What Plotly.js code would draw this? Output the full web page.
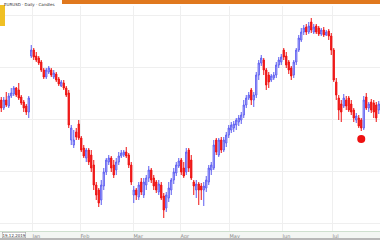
<!DOCTYPE html>
<html>
<head>
<meta charset="utf-8">
<script src="https://cdn.plot.ly/plotly-3.0.1.min.js"></script>
<style>html,body{margin:0;padding:0;background:#fff;}#chart{width:380px;height:240px;}</style>
</head>
<body>
<div id="chart"></div>
<script>
// OHLC values (arbitrary price units)
const openVals = [140,132,140,134,144,146,152,150,143,138,134,128,
184,190,184,182,178,170,163,168,170,163,166,161,154,157,152,147,
100,95,108,116,102,92,82,90,85,75,55,50,40,54,68,78,82,75,70,78,84,85,88,85,75,
45,50,43,58,45,55,62,70,62,58,48,55,44,32,42,50,60,67,74,80,72,
68,90,80,58,50,56,54,50,52,58,70,72,100,85,100,90,97,105,110,112,115,118,120,125,135,142,150,140,145,165,177,180,170,165,160,162,165,175,
178,190,184,178,172,165,178,190,200,208,213,208,218,208,214,212,206,210,205,209,204,190,
158,142,136,134,140,142,136,130,120,122,120,112,143,132,138,137,135,130];
const closeVals = [132,140,135,144,147,152,145,142,137,132,128,142,
190,183,180,177,170,163,170,172,165,167,160,156,158,152,145,115,
112,100,103,102,90,84,90,78,72,55,45,37,55,68,80,82,72,65,78,84,87,88,84,75,58,
50,45,55,48,58,62,70,60,54,50,56,42,30,45,52,60,68,75,79,68,64,
88,72,62,54,56,50,50,54,60,72,75,95,88,100,90,100,105,112,115,116,120,122,125,135,142,145,140,145,165,177,182,170,155,158,164,165,175,180,
183,183,175,170,164,178,190,202,208,212,208,214,210,213,208,206,210,205,208,204,190,160,
145,130,128,142,134,130,128,122,124,114,112,140,132,136,130,128,122,136];
const highVals = [143,143,148,147,152,154,153,157,145,140,136,144,
195,192,188,184,180,172,172,174,172,170,168,163,160,160,154,150,
115,110,112,120,104,95,92,92,90,80,58,52,60,72,82,85,84,80,82,88,90,90,93,87,78,
54,52,58,62,62,65,74,72,65,60,60,58,47,48,58,62,72,78,82,82,78,
92,92,85,60,60,58,57,58,64,75,78,100,102,102,103,103,108,115,118,119,122,125,128,140,145,148,152,148,168,180,185,182,172,168,166,168,178,183,
186,192,188,180,174,180,192,205,212,215,216,218,222,216,216,214,212,213,210,211,207,192,
162,145,140,146,144,144,140,132,127,125,122,144,147,138,141,140,138,139];
const lowVals = [128,130,133,132,142,144,143,140,135,128,125,122,
182,180,178,175,168,161,161,166,163,161,158,154,153,150,143,112,
95,92,100,100,88,82,78,75,68,50,40,33,35,50,65,75,68,62,65,75,82,83,82,72,55,
37,40,40,45,42,50,58,57,50,47,45,40,22,28,38,45,56,64,72,65,62,
65,68,60,45,42,35,40,34,48,55,65,70,85,83,87,88,93,102,107,108,110,114,116,122,132,140,135,133,142,160,174,165,150,152,158,160,162,172,
175,180,172,166,160,162,175,188,198,205,205,206,207,206,206,204,204,203,204,200,185,158,
140,120,118,132,130,128,125,118,117,112,109,110,130,128,127,122,118,126];

// marker (red dot) below the last swing low
const dotIndex = [144];
const dotValue = [101];

// month tick labels
const tickLabels = ['Jan', 'Feb', 'Mar', 'Apr', 'May', 'Jun', 'Jul'];
const tickIndex = [12.3, 31.5, 52.7, 71.5, 91.1, 112.3, 132.3];

const traces = [
  {
    type: 'candlestick',
    open: openVals, high: highVals, low: lowVals, close: closeVals,
    increasing: {line: {color: '#5c5cf0', width: 1}, fillcolor: '#e2e2ff'},
    decreasing: {line: {color: '#ee1111', width: 1}, fillcolor: '#ee1111'},
    whiskerwidth: 0,
    hoverinfo: 'skip'
  },
  {
    type: 'scatter', mode: 'markers',
    x: dotIndex, y: dotValue,
    marker: {color: '#ee1111', size: 8},
    hoverinfo: 'skip'
  }
];

const layout = {
  width: 380, height: 240,
  margin: {l: 0, r: 0, t: 6, b: 9, pad: 0},
  paper_bgcolor: '#ffffff', plot_bgcolor: '#ffffff',
  showlegend: false,
  xaxis: {
    range: [-0.5, 151.5],
    rangeslider: {visible: false},
    tickmode: 'array', tickvals: tickIndex, ticktext: tickLabels,
    ticklabelposition: 'outside right',
    tickfont: {family: 'DejaVu Sans', size: 5, color: '#888'},
    ticks: '', showgrid: true, gridcolor: '#efefef', gridwidth: 1,
    showline: true, linecolor: '#cfe0cf', linewidth: 1,
    zeroline: false, fixedrange: true
  },
  yaxis: {
    range: [9, 234],
    tick0: 17, dtick: 52,
    showticklabels: false, ticks: '',
    showgrid: true, gridcolor: '#efefef', gridwidth: 1,
    zeroline: false, showline: false, fixedrange: true
  },
  shapes: [
    {type: 'rect', xref: 'paper', yref: 'paper', x0: 0, x1: 1, y0: -9/225, y1: 0,
     fillcolor: '#f3f6f3', line: {width: 0}, layer: 'below'},
    {type: 'rect', xref: 'paper', yref: 'paper', x0: 0, x1: 1, y0: -9/225, y1: -7/225,
     fillcolor: '#b8b8b8', line: {width: 0}},
    {type: 'rect', xref: 'paper', yref: 'paper', x0: 62/380, x1: 1, y0: 1 + 2/225, y1: 1 + 6/225,
     fillcolor: '#e0781e', line: {width: 0}},
    {type: 'rect', xref: 'paper', yref: 'paper', x0: 0, x1: 5/380, y0: 1 - 20/225, y1: 1 + 1/225,
     fillcolor: '#f0c024', line: {width: 0}}
  ],
  annotations: [
    {xref: 'paper', yref: 'paper', x: 0.005, y: 1 + 6/225, xanchor: 'left', yanchor: 'top',
     text: 'EURUSD · Daily · Candles', showarrow: false,
     font: {family: 'DejaVu Sans', size: 4, color: '#333'}},
    {xref: 'paper', yref: 'paper', x: 0.005, y: -1.5/225, xanchor: 'left', yanchor: 'top',
     text: '19.12.2019', showarrow: false, bgcolor: '#ffffff', bordercolor: '#999', borderwidth: 0.5, borderpad: 0,
     font: {family: 'DejaVu Sans', size: 4, color: '#333'}}
  ]
};

Plotly.newPlot('chart', traces, layout, {displayModeBar: false, staticPlot: true});
</script>
</body>
</html>
